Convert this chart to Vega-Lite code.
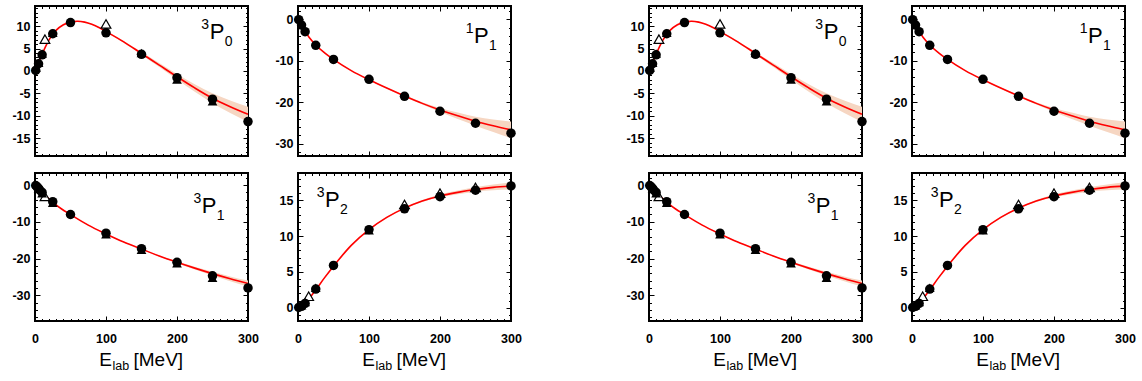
{
"$schema": "https://vega.github.io/schema/vega-lite/v6.json",
"padding": {"left": 10, "top": 4, "right": 5, "bottom": 5},
"datasets": {
"curve": [
{"w":"3P0","E":0,"d":0,"lo":-0.05,"hi":0.05},{"w":"3P0","E":1,"d":0.2,"lo":0.15,"hi":0.25},{"w":"3P0","E":3,"d":1.0,"lo":0.95,"hi":1.05},{"w":"3P0","E":5,"d":1.6,"lo":1.55,"hi":1.65},{"w":"3P0","E":7.5,"d":2.7,"lo":2.65,"hi":2.75},{"w":"3P0","E":10,"d":3.7,"lo":3.62,"hi":3.78},{"w":"3P0","E":15,"d":5.5,"lo":5.42,"hi":5.58},{"w":"3P0","E":20,"d":7.0,"lo":6.92,"hi":7.08},{"w":"3P0","E":25,"d":8.2,"lo":8.12,"hi":8.28},{"w":"3P0","E":30,"d":9.1,"lo":9.02,"hi":9.18},{"w":"3P0","E":40,"d":10.3,"lo":10.22,"hi":10.38},{"w":"3P0","E":50,"d":10.9,"lo":10.82,"hi":10.98},{"w":"3P0","E":60,"d":11.1,"lo":11.02,"hi":11.18},{"w":"3P0","E":70,"d":10.9,"lo":10.82,"hi":10.98},{"w":"3P0","E":80,"d":10.4,"lo":10.3,"hi":10.5},{"w":"3P0","E":90,"d":9.7,"lo":9.6,"hi":9.8},{"w":"3P0","E":100,"d":8.8,"lo":8.7,"hi":8.9},{"w":"3P0","E":125,"d":6.5,"lo":6.3,"hi":6.7},{"w":"3P0","E":150,"d":3.9,"lo":3.6,"hi":4.2},{"w":"3P0","E":175,"d":1.3,"lo":0.85,"hi":1.75},{"w":"3P0","E":200,"d":-1.3,"lo":-1.9,"hi":-0.7},{"w":"3P0","E":225,"d":-3.8,"lo":-4.65,"hi":-2.95},{"w":"3P0","E":250,"d":-6.1,"lo":-7.2,"hi":-5.0},{"w":"3P0","E":275,"d":-8.0,"lo":-9.4,"hi":-6.6},{"w":"3P0","E":300,"d":-9.7,"lo":-11.4,"hi":-8.0},
{"w":"1P1","E":0,"d":0,"lo":-0.05,"hi":0.05},{"w":"1P1","E":1,"d":-0.2,"lo":-0.25,"hi":-0.15},{"w":"1P1","E":5,"d":-1.5,"lo":-1.6,"hi":-1.4},{"w":"1P1","E":10,"d":-3.0,"lo":-3.1,"hi":-2.9},{"w":"1P1","E":15,"d":-4.2,"lo":-4.3,"hi":-4.1},{"w":"1P1","E":25,"d":-6.2,"lo":-6.3,"hi":-6.1},{"w":"1P1","E":37.5,"d":-8.1,"lo":-8.2,"hi":-8.0},{"w":"1P1","E":50,"d":-9.7,"lo":-9.8,"hi":-9.6},{"w":"1P1","E":75,"d":-12.4,"lo":-12.5,"hi":-12.3},{"w":"1P1","E":100,"d":-14.6,"lo":-14.7,"hi":-14.5},{"w":"1P1","E":125,"d":-16.6,"lo":-16.75,"hi":-16.45},{"w":"1P1","E":150,"d":-18.5,"lo":-18.7,"hi":-18.3},{"w":"1P1","E":175,"d":-20.3,"lo":-20.6,"hi":-20.0},{"w":"1P1","E":200,"d":-21.9,"lo":-22.4,"hi":-21.4},{"w":"1P1","E":225,"d":-23.3,"lo":-24.1,"hi":-22.5},{"w":"1P1","E":250,"d":-24.6,"lo":-25.7,"hi":-23.5},{"w":"1P1","E":275,"d":-25.7,"lo":-27.2,"hi":-24.2},{"w":"1P1","E":300,"d":-26.7,"lo":-28.7,"hi":-24.7},
{"w":"3P1","E":0,"d":0,"lo":-0.05,"hi":0.05},{"w":"3P1","E":1,"d":-0.1,"lo":-0.15,"hi":-0.05},{"w":"3P1","E":5,"d":-0.9,"lo":-1.0,"hi":-0.8},{"w":"3P1","E":10,"d":-2.0,"lo":-2.1,"hi":-1.9},{"w":"3P1","E":15,"d":-2.9,"lo":-3.0,"hi":-2.8},{"w":"3P1","E":25,"d":-4.6,"lo":-4.7,"hi":-4.5},{"w":"3P1","E":37.5,"d":-6.5,"lo":-6.6,"hi":-6.4},{"w":"3P1","E":50,"d":-8.0,"lo":-8.1,"hi":-7.9},{"w":"3P1","E":75,"d":-10.9,"lo":-11.0,"hi":-10.8},{"w":"3P1","E":100,"d":-13.3,"lo":-13.4,"hi":-13.2},{"w":"3P1","E":125,"d":-15.5,"lo":-15.6,"hi":-15.4},{"w":"3P1","E":150,"d":-17.4,"lo":-17.5,"hi":-17.3},{"w":"3P1","E":175,"d":-19.3,"lo":-19.45,"hi":-19.15},{"w":"3P1","E":200,"d":-21.0,"lo":-21.25,"hi":-20.75},{"w":"3P1","E":225,"d":-22.6,"lo":-22.95,"hi":-22.25},{"w":"3P1","E":250,"d":-24.1,"lo":-24.6,"hi":-23.6},{"w":"3P1","E":275,"d":-25.5,"lo":-26.15,"hi":-24.85},{"w":"3P1","E":300,"d":-26.8,"lo":-27.6,"hi":-26.0},
{"w":"3P2","E":0,"d":0,"lo":-0.05,"hi":0.05},{"w":"3P2","E":5,"d":0.25,"lo":0.2,"hi":0.3},{"w":"3P2","E":10,"d":0.65,"lo":0.6,"hi":0.7},{"w":"3P2","E":15,"d":1.2,"lo":1.15,"hi":1.25},{"w":"3P2","E":25,"d":2.5,"lo":2.45,"hi":2.55},{"w":"3P2","E":37.5,"d":4.2,"lo":4.1,"hi":4.3},{"w":"3P2","E":50,"d":5.8,"lo":5.7,"hi":5.9},{"w":"3P2","E":75,"d":8.7,"lo":8.6,"hi":8.8},{"w":"3P2","E":100,"d":10.9,"lo":10.8,"hi":11.0},{"w":"3P2","E":125,"d":12.6,"lo":12.5,"hi":12.7},{"w":"3P2","E":150,"d":13.9,"lo":13.8,"hi":14.0},{"w":"3P2","E":175,"d":14.9,"lo":14.75,"hi":15.05},{"w":"3P2","E":200,"d":15.6,"lo":15.4,"hi":15.8},{"w":"3P2","E":225,"d":16.1,"lo":15.85,"hi":16.35},{"w":"3P2","E":250,"d":16.5,"lo":16.2,"hi":16.8},{"w":"3P2","E":275,"d":16.8,"lo":16.4,"hi":17.2},{"w":"3P2","E":300,"d":17.0,"lo":16.5,"hi":17.5}
],
"pts": [
{"w":"3P0","s":"c","E":1,"d":0.1},{"w":"3P0","s":"c","E":5,"d":1.6},{"w":"3P0","s":"c","E":10,"d":3.6},{"w":"3P0","s":"c","E":25,"d":8.3},{"w":"3P0","s":"c","E":50,"d":10.8},{"w":"3P0","s":"c","E":100,"d":8.5},{"w":"3P0","s":"c","E":150,"d":3.7},{"w":"3P0","s":"c","E":200,"d":-1.5},{"w":"3P0","s":"c","E":250,"d":-6.3},{"w":"3P0","s":"c","E":300,"d":-11.3},
{"w":"3P0","s":"t","E":5,"d":1.8},{"w":"3P0","s":"t","E":10,"d":3.9},{"w":"3P0","s":"t","E":25,"d":8.5},{"w":"3P0","s":"t","E":150,"d":4.0},{"w":"3P0","s":"t","E":200,"d":-1.9},{"w":"3P0","s":"t","E":250,"d":-6.8},
{"w":"3P0","s":"o","E":14,"d":7.1},{"w":"3P0","s":"o","E":100,"d":10.5},
{"w":"1P1","s":"c","E":1,"d":-0.1},{"w":"1P1","s":"c","E":5,"d":-1.4},{"w":"1P1","s":"c","E":10,"d":-3.0},{"w":"1P1","s":"c","E":25,"d":-6.3},{"w":"1P1","s":"c","E":50,"d":-9.7},{"w":"1P1","s":"c","E":100,"d":-14.5},{"w":"1P1","s":"c","E":150,"d":-18.6},{"w":"1P1","s":"c","E":200,"d":-22.2},{"w":"1P1","s":"c","E":250,"d":-25.1},{"w":"1P1","s":"c","E":300,"d":-27.5},
{"w":"3P1","s":"c","E":1,"d":-0.1},{"w":"3P1","s":"c","E":3,"d":-0.5},{"w":"3P1","s":"c","E":5,"d":-0.9},{"w":"3P1","s":"c","E":7,"d":-1.4},{"w":"3P1","s":"c","E":10,"d":-2.0},{"w":"3P1","s":"c","E":25,"d":-4.5},{"w":"3P1","s":"c","E":50,"d":-8.0},{"w":"3P1","s":"c","E":100,"d":-13.1},{"w":"3P1","s":"c","E":150,"d":-17.3},{"w":"3P1","s":"c","E":200,"d":-21.0},{"w":"3P1","s":"c","E":250,"d":-24.7},{"w":"3P1","s":"c","E":300,"d":-28.0},
{"w":"3P1","s":"t","E":5,"d":-1.0},{"w":"3P1","s":"t","E":10,"d":-2.2},{"w":"3P1","s":"t","E":25,"d":-4.8},{"w":"3P1","s":"t","E":100,"d":-13.4},{"w":"3P1","s":"t","E":150,"d":-17.6},{"w":"3P1","s":"t","E":200,"d":-21.3},{"w":"3P1","s":"t","E":250,"d":-25.2},
{"w":"3P1","s":"o","E":14,"d":-3.1},
{"w":"3P2","s":"c","E":1,"d":0.05},{"w":"3P2","s":"c","E":5,"d":0.2},{"w":"3P2","s":"c","E":10,"d":0.6},{"w":"3P2","s":"c","E":25,"d":2.6},{"w":"3P2","s":"c","E":50,"d":5.9},{"w":"3P2","s":"c","E":100,"d":10.9},{"w":"3P2","s":"c","E":150,"d":13.8},{"w":"3P2","s":"c","E":200,"d":15.5},{"w":"3P2","s":"c","E":250,"d":16.4},{"w":"3P2","s":"c","E":300,"d":17.0},
{"w":"3P2","s":"t","E":5,"d":0.35},{"w":"3P2","s":"t","E":10,"d":0.8},{"w":"3P2","s":"t","E":25,"d":2.8},{"w":"3P2","s":"t","E":100,"d":10.8},
{"w":"3P2","s":"o","E":15,"d":1.6},{"w":"3P2","s":"o","E":150,"d":14.4},{"w":"3P2","s":"o","E":200,"d":16.0},{"w":"3P2","s":"o","E":250,"d":16.8}
],
"lab3P0": [{"sup":"3","main":"P","sub":"0"}],
"lab1P1": [{"sup":"1","main":"P","sub":"1"}],
"lab3P1": [{"sup":"3","main":"P","sub":"1"}],
"lab3P2": [{"sup":"3","main":"P","sub":"2"}],
"xtitle": [{"e":"E","lab":"lab","unit":"[MeV]"}]
},
"columns": 5,
"align": "each",
"bounds": "flush",
"spacing": {"row": 17, "column": 50},
"concat": [
{"width":213,"height":150,"resolve":{"axis":{"x":"independent","y":"independent"}},"layer":[
 {"data":{"name":"curve"},"transform":[{"filter":"datum.w === '3P0'"}],"mark":{"type":"area","color":"#f6d6c2","interpolate":"monotone"},"encoding":{"x":{"field":"E","type":"quantitative","scale":{"domain":[0,300],"nice":false},"axis":{"orient":"bottom","title":null,"values":[0,100,200,300],"labels":false,"tickSize":-5}},"y":{"field":"lo","type":"quantitative","scale":{"domain":[-19,14.5],"nice":false},"axis":{"orient":"left","title":null,"values":[-15,-10,-5,0,5,10],"labelExpr":"'' + datum.value","labelPadding":10,"tickSize":-5}},"y2":{"field":"hi"}}},
 {"data":{"name":"curve"},"transform":[{"filter":"datum.w === '3P0'"}],"mark":{"type":"line","color":"#ff0000","strokeWidth":1.6,"interpolate":"monotone"},"encoding":{"x":{"field":"E","type":"quantitative","axis":{"orient":"top","title":null,"values":[0,100,200,300],"labels":false,"tickSize":-5}},"y":{"field":"d","type":"quantitative","axis":{"orient":"right","title":null,"values":[-15,-10,-5,0,5,10],"labels":false,"tickSize":-5}}}},
 {"data":{"name":"pts"},"transform":[{"filter":"datum.w === '3P0' && datum.s === 'o'"}],"mark":{"type":"point","shape":"triangle-up","filled":true,"fill":"white","stroke":"black","strokeWidth":1.2,"opacity":1,"size":95},"encoding":{"x":{"field":"E","type":"quantitative","axis":{"orient":"bottom","title":null,"values":[0,10,20,30,40,50,60,70,80,90,100,110,120,130,140,150,160,170,180,190,200,210,220,230,240,250,260,270,280,290,300],"labels":false,"tickSize":-2.5}},"y":{"field":"d","type":"quantitative","axis":{"orient":"left","title":null,"values":[-19,-18,-17,-16,-15,-14,-13,-12,-11,-10,-9,-8,-7,-6,-5,-4,-3,-2,-1,0,1,2,3,4,5,6,7,8,9,10,11,12,13,14],"labels":false,"tickSize":-2.5}}}},
 {"data":{"name":"pts"},"transform":[{"filter":"datum.w === '3P0' && datum.s === 't'"}],"mark":{"type":"point","shape":"triangle-up","filled":true,"color":"black","opacity":1,"size":95},"encoding":{"x":{"field":"E","type":"quantitative","axis":null},"y":{"field":"d","type":"quantitative","axis":null}}},
 {"data":{"name":"pts"},"transform":[{"filter":"datum.w === '3P0' && datum.s === 'c'"}],"mark":{"type":"circle","color":"black","opacity":1,"size":90},"encoding":{"x":{"field":"E","type":"quantitative","axis":{"orient":"top","title":null,"values":[0,10,20,30,40,50,60,70,80,90,100,110,120,130,140,150,160,170,180,190,200,210,220,230,240,250,260,270,280,290,300],"labels":false,"tickSize":-2.5}},"y":{"field":"d","type":"quantitative","axis":{"orient":"right","title":null,"values":[-19,-18,-17,-16,-15,-14,-13,-12,-11,-10,-9,-8,-7,-6,-5,-4,-3,-2,-1,0,1,2,3,4,5,6,7,8,9,10,11,12,13,14],"labels":false,"tickSize":-2.5}}}},
 {"data":{"name":"lab3P0"},"encoding":{"x":{"datum":246,"type":"quantitative","axis":null},"y":{"datum":7.1,"type":"quantitative","axis":null}},"layer":[
  {"mark":{"type":"text","fontSize":14,"align":"right","baseline":"alphabetic","dx":-0.5,"dy":-10},"encoding":{"text":{"field":"sup"}}},
  {"mark":{"type":"text","fontSize":22,"align":"left","baseline":"alphabetic"},"encoding":{"text":{"field":"main"}}},
  {"mark":{"type":"text","fontSize":14,"align":"left","baseline":"alphabetic","dx":15,"dy":7},"encoding":{"text":{"field":"sub"}}}]}
]},
{"width":213,"height":150,"resolve":{"axis":{"x":"independent","y":"independent"}},"layer":[
 {"data":{"name":"curve"},"transform":[{"filter":"datum.w === '1P1'"}],"mark":{"type":"area","color":"#f6d6c2","interpolate":"monotone"},"encoding":{"x":{"field":"E","type":"quantitative","scale":{"domain":[0,300],"nice":false},"axis":{"orient":"bottom","title":null,"values":[0,100,200,300],"labels":false,"tickSize":-5}},"y":{"field":"lo","type":"quantitative","scale":{"domain":[-33,3.2],"nice":false},"axis":{"orient":"left","title":null,"values":[-30,-20,-10,0],"labelExpr":"'' + datum.value","labelPadding":10,"tickSize":-5}},"y2":{"field":"hi"}}},
 {"data":{"name":"curve"},"transform":[{"filter":"datum.w === '1P1'"}],"mark":{"type":"line","color":"#ff0000","strokeWidth":1.6,"interpolate":"monotone"},"encoding":{"x":{"field":"E","type":"quantitative","axis":{"orient":"top","title":null,"values":[0,100,200,300],"labels":false,"tickSize":-5}},"y":{"field":"d","type":"quantitative","axis":{"orient":"right","title":null,"values":[-30,-20,-10,0],"labels":false,"tickSize":-5}}}},
 {"data":{"name":"pts"},"transform":[{"filter":"datum.w === '1P1' && datum.s === 'o'"}],"mark":{"type":"point","shape":"triangle-up","filled":true,"fill":"white","stroke":"black","strokeWidth":1.2,"opacity":1,"size":95},"encoding":{"x":{"field":"E","type":"quantitative","axis":{"orient":"bottom","title":null,"values":[0,10,20,30,40,50,60,70,80,90,100,110,120,130,140,150,160,170,180,190,200,210,220,230,240,250,260,270,280,290,300],"labels":false,"tickSize":-2.5}},"y":{"field":"d","type":"quantitative","axis":{"orient":"left","title":null,"values":[-32,-30,-28,-26,-24,-22,-20,-18,-16,-14,-12,-10,-8,-6,-4,-2,0,2],"labels":false,"tickSize":-2.5}}}},
 {"data":{"name":"pts"},"transform":[{"filter":"datum.w === '1P1' && datum.s === 'c'"}],"mark":{"type":"circle","color":"black","opacity":1,"size":90},"encoding":{"x":{"field":"E","type":"quantitative","axis":{"orient":"top","title":null,"values":[0,10,20,30,40,50,60,70,80,90,100,110,120,130,140,150,160,170,180,190,200,210,220,230,240,250,260,270,280,290,300],"labels":false,"tickSize":-2.5}},"y":{"field":"d","type":"quantitative","axis":{"orient":"right","title":null,"values":[-32,-30,-28,-26,-24,-22,-20,-18,-16,-14,-12,-10,-8,-6,-4,-2,0,2],"labels":false,"tickSize":-2.5}}}},
 {"data":{"name":"lab1P1"},"encoding":{"x":{"datum":248,"type":"quantitative","axis":null},"y":{"datum":-5.7,"type":"quantitative","axis":null}},"layer":[
  {"mark":{"type":"text","fontSize":14,"align":"right","baseline":"alphabetic","dx":-0.5,"dy":-10},"encoding":{"text":{"field":"sup"}}},
  {"mark":{"type":"text","fontSize":22,"align":"left","baseline":"alphabetic"},"encoding":{"text":{"field":"main"}}},
  {"mark":{"type":"text","fontSize":14,"align":"left","baseline":"alphabetic","dx":15,"dy":7},"encoding":{"text":{"field":"sub"}}}]}
]},
{"width":38,"height":150,"data":{"values":[]},"mark":"point","view":{"stroke":null}},
{"width":213,"height":150,"resolve":{"axis":{"x":"independent","y":"independent"}},"layer":[
 {"data":{"name":"curve"},"transform":[{"filter":"datum.w === '3P0'"}],"mark":{"type":"area","color":"#f6d6c2","interpolate":"monotone"},"encoding":{"x":{"field":"E","type":"quantitative","scale":{"domain":[0,300],"nice":false},"axis":{"orient":"bottom","title":null,"values":[0,100,200,300],"labels":false,"tickSize":-5}},"y":{"field":"lo","type":"quantitative","scale":{"domain":[-19,14.5],"nice":false},"axis":{"orient":"left","title":null,"values":[-15,-10,-5,0,5,10],"labelExpr":"'' + datum.value","labelPadding":10,"tickSize":-5}},"y2":{"field":"hi"}}},
 {"data":{"name":"curve"},"transform":[{"filter":"datum.w === '3P0'"}],"mark":{"type":"line","color":"#ff0000","strokeWidth":1.6,"interpolate":"monotone"},"encoding":{"x":{"field":"E","type":"quantitative","axis":{"orient":"top","title":null,"values":[0,100,200,300],"labels":false,"tickSize":-5}},"y":{"field":"d","type":"quantitative","axis":{"orient":"right","title":null,"values":[-15,-10,-5,0,5,10],"labels":false,"tickSize":-5}}}},
 {"data":{"name":"pts"},"transform":[{"filter":"datum.w === '3P0' && datum.s === 'o'"}],"mark":{"type":"point","shape":"triangle-up","filled":true,"fill":"white","stroke":"black","strokeWidth":1.2,"opacity":1,"size":95},"encoding":{"x":{"field":"E","type":"quantitative","axis":{"orient":"bottom","title":null,"values":[0,10,20,30,40,50,60,70,80,90,100,110,120,130,140,150,160,170,180,190,200,210,220,230,240,250,260,270,280,290,300],"labels":false,"tickSize":-2.5}},"y":{"field":"d","type":"quantitative","axis":{"orient":"left","title":null,"values":[-19,-18,-17,-16,-15,-14,-13,-12,-11,-10,-9,-8,-7,-6,-5,-4,-3,-2,-1,0,1,2,3,4,5,6,7,8,9,10,11,12,13,14],"labels":false,"tickSize":-2.5}}}},
 {"data":{"name":"pts"},"transform":[{"filter":"datum.w === '3P0' && datum.s === 't'"}],"mark":{"type":"point","shape":"triangle-up","filled":true,"color":"black","opacity":1,"size":95},"encoding":{"x":{"field":"E","type":"quantitative","axis":null},"y":{"field":"d","type":"quantitative","axis":null}}},
 {"data":{"name":"pts"},"transform":[{"filter":"datum.w === '3P0' && datum.s === 'c'"}],"mark":{"type":"circle","color":"black","opacity":1,"size":90},"encoding":{"x":{"field":"E","type":"quantitative","axis":{"orient":"top","title":null,"values":[0,10,20,30,40,50,60,70,80,90,100,110,120,130,140,150,160,170,180,190,200,210,220,230,240,250,260,270,280,290,300],"labels":false,"tickSize":-2.5}},"y":{"field":"d","type":"quantitative","axis":{"orient":"right","title":null,"values":[-19,-18,-17,-16,-15,-14,-13,-12,-11,-10,-9,-8,-7,-6,-5,-4,-3,-2,-1,0,1,2,3,4,5,6,7,8,9,10,11,12,13,14],"labels":false,"tickSize":-2.5}}}},
 {"data":{"name":"lab3P0"},"encoding":{"x":{"datum":246,"type":"quantitative","axis":null},"y":{"datum":7.1,"type":"quantitative","axis":null}},"layer":[
  {"mark":{"type":"text","fontSize":14,"align":"right","baseline":"alphabetic","dx":-0.5,"dy":-10},"encoding":{"text":{"field":"sup"}}},
  {"mark":{"type":"text","fontSize":22,"align":"left","baseline":"alphabetic"},"encoding":{"text":{"field":"main"}}},
  {"mark":{"type":"text","fontSize":14,"align":"left","baseline":"alphabetic","dx":15,"dy":7},"encoding":{"text":{"field":"sub"}}}]}
]},
{"width":213,"height":150,"resolve":{"axis":{"x":"independent","y":"independent"}},"layer":[
 {"data":{"name":"curve"},"transform":[{"filter":"datum.w === '1P1'"}],"mark":{"type":"area","color":"#f6d6c2","interpolate":"monotone"},"encoding":{"x":{"field":"E","type":"quantitative","scale":{"domain":[0,300],"nice":false},"axis":{"orient":"bottom","title":null,"values":[0,100,200,300],"labels":false,"tickSize":-5}},"y":{"field":"lo","type":"quantitative","scale":{"domain":[-33,3.2],"nice":false},"axis":{"orient":"left","title":null,"values":[-30,-20,-10,0],"labelExpr":"'' + datum.value","labelPadding":10,"tickSize":-5}},"y2":{"field":"hi"}}},
 {"data":{"name":"curve"},"transform":[{"filter":"datum.w === '1P1'"}],"mark":{"type":"line","color":"#ff0000","strokeWidth":1.6,"interpolate":"monotone"},"encoding":{"x":{"field":"E","type":"quantitative","axis":{"orient":"top","title":null,"values":[0,100,200,300],"labels":false,"tickSize":-5}},"y":{"field":"d","type":"quantitative","axis":{"orient":"right","title":null,"values":[-30,-20,-10,0],"labels":false,"tickSize":-5}}}},
 {"data":{"name":"pts"},"transform":[{"filter":"datum.w === '1P1' && datum.s === 'o'"}],"mark":{"type":"point","shape":"triangle-up","filled":true,"fill":"white","stroke":"black","strokeWidth":1.2,"opacity":1,"size":95},"encoding":{"x":{"field":"E","type":"quantitative","axis":{"orient":"bottom","title":null,"values":[0,10,20,30,40,50,60,70,80,90,100,110,120,130,140,150,160,170,180,190,200,210,220,230,240,250,260,270,280,290,300],"labels":false,"tickSize":-2.5}},"y":{"field":"d","type":"quantitative","axis":{"orient":"left","title":null,"values":[-32,-30,-28,-26,-24,-22,-20,-18,-16,-14,-12,-10,-8,-6,-4,-2,0,2],"labels":false,"tickSize":-2.5}}}},
 {"data":{"name":"pts"},"transform":[{"filter":"datum.w === '1P1' && datum.s === 'c'"}],"mark":{"type":"circle","color":"black","opacity":1,"size":90},"encoding":{"x":{"field":"E","type":"quantitative","axis":{"orient":"top","title":null,"values":[0,10,20,30,40,50,60,70,80,90,100,110,120,130,140,150,160,170,180,190,200,210,220,230,240,250,260,270,280,290,300],"labels":false,"tickSize":-2.5}},"y":{"field":"d","type":"quantitative","axis":{"orient":"right","title":null,"values":[-32,-30,-28,-26,-24,-22,-20,-18,-16,-14,-12,-10,-8,-6,-4,-2,0,2],"labels":false,"tickSize":-2.5}}}},
 {"data":{"name":"lab1P1"},"encoding":{"x":{"datum":248,"type":"quantitative","axis":null},"y":{"datum":-5.7,"type":"quantitative","axis":null}},"layer":[
  {"mark":{"type":"text","fontSize":14,"align":"right","baseline":"alphabetic","dx":-0.5,"dy":-10},"encoding":{"text":{"field":"sup"}}},
  {"mark":{"type":"text","fontSize":22,"align":"left","baseline":"alphabetic"},"encoding":{"text":{"field":"main"}}},
  {"mark":{"type":"text","fontSize":14,"align":"left","baseline":"alphabetic","dx":15,"dy":7},"encoding":{"text":{"field":"sub"}}}]}
]},
{"width":213,"height":148,"resolve":{"axis":{"x":"independent","y":"independent"}},"layer":[
 {"data":{"name":"curve"},"transform":[{"filter":"datum.w === '3P1'"}],"mark":{"type":"area","color":"#f6d6c2","interpolate":"monotone"},"encoding":{"x":{"field":"E","type":"quantitative","scale":{"domain":[0,300],"nice":false},"axis":{"orient":"bottom","title":null,"values":[0,100,200,300],"labelExpr":"'' + datum.value","labelPadding":16,"tickSize":-5}},"y":{"field":"lo","type":"quantitative","scale":{"domain":[-37,3.3],"nice":false},"axis":{"orient":"left","title":null,"values":[-30,-20,-10,0],"labelExpr":"'' + datum.value","labelPadding":10,"tickSize":-5}},"y2":{"field":"hi"}}},
 {"data":{"name":"curve"},"transform":[{"filter":"datum.w === '3P1'"}],"mark":{"type":"line","color":"#ff0000","strokeWidth":1.6,"interpolate":"monotone"},"encoding":{"x":{"field":"E","type":"quantitative","axis":{"orient":"top","title":null,"values":[0,100,200,300],"labels":false,"tickSize":-5}},"y":{"field":"d","type":"quantitative","axis":{"orient":"right","title":null,"values":[-30,-20,-10,0],"labels":false,"tickSize":-5}}}},
 {"data":{"name":"pts"},"transform":[{"filter":"datum.w === '3P1' && datum.s === 'o'"}],"mark":{"type":"point","shape":"triangle-up","filled":true,"fill":"white","stroke":"black","strokeWidth":1.2,"opacity":1,"size":95},"encoding":{"x":{"field":"E","type":"quantitative","axis":{"orient":"bottom","title":null,"values":[0,10,20,30,40,50,60,70,80,90,100,110,120,130,140,150,160,170,180,190,200,210,220,230,240,250,260,270,280,290,300],"labels":false,"tickSize":-2.5}},"y":{"field":"d","type":"quantitative","axis":{"orient":"left","title":null,"values":[-36,-34,-32,-30,-28,-26,-24,-22,-20,-18,-16,-14,-12,-10,-8,-6,-4,-2,0,2],"labels":false,"tickSize":-2.5}}}},
 {"data":{"name":"pts"},"transform":[{"filter":"datum.w === '3P1' && datum.s === 't'"}],"mark":{"type":"point","shape":"triangle-up","filled":true,"color":"black","opacity":1,"size":95},"encoding":{"x":{"field":"E","type":"quantitative","axis":null},"y":{"field":"d","type":"quantitative","axis":null}}},
 {"data":{"name":"pts"},"transform":[{"filter":"datum.w === '3P1' && datum.s === 'c'"}],"mark":{"type":"circle","color":"black","opacity":1,"size":90},"encoding":{"x":{"field":"E","type":"quantitative","axis":{"orient":"top","title":null,"values":[0,10,20,30,40,50,60,70,80,90,100,110,120,130,140,150,160,170,180,190,200,210,220,230,240,250,260,270,280,290,300],"labels":false,"tickSize":-2.5}},"y":{"field":"d","type":"quantitative","axis":{"orient":"right","title":null,"values":[-36,-34,-32,-30,-28,-26,-24,-22,-20,-18,-16,-14,-12,-10,-8,-6,-4,-2,0,2],"labels":false,"tickSize":-2.5}}}},
 {"data":{"name":"lab3P1"},"encoding":{"x":{"datum":235,"type":"quantitative","axis":null},"y":{"datum":-7.6,"type":"quantitative","axis":null}},"layer":[
  {"mark":{"type":"text","fontSize":14,"align":"right","baseline":"alphabetic","dx":-0.5,"dy":-10},"encoding":{"text":{"field":"sup"}}},
  {"mark":{"type":"text","fontSize":22,"align":"left","baseline":"alphabetic"},"encoding":{"text":{"field":"main"}}},
  {"mark":{"type":"text","fontSize":14,"align":"left","baseline":"alphabetic","dx":15,"dy":7},"encoding":{"text":{"field":"sub"}}}]},
 {"data":{"name":"xtitle"},"encoding":{"x":{"datum":150,"type":"quantitative","axis":null},"y":{"datum":-37,"type":"quantitative","axis":null}},"layer":[
  {"mark":{"type":"text","fontSize":19,"align":"right","baseline":"alphabetic","dx":-29.5,"dy":45},"encoding":{"text":{"field":"e"}}},
  {"mark":{"type":"text","fontSize":12.5,"align":"left","baseline":"alphabetic","dx":-29,"dy":49},"encoding":{"text":{"field":"lab"}}},
  {"mark":{"type":"text","fontSize":19,"align":"left","baseline":"alphabetic","dx":-8,"dy":45},"encoding":{"text":{"field":"unit"}}}]}
]},
{"width":213,"height":148,"resolve":{"axis":{"x":"independent","y":"independent"}},"layer":[
 {"data":{"name":"curve"},"transform":[{"filter":"datum.w === '3P2'"}],"mark":{"type":"area","color":"#f6d6c2","interpolate":"monotone"},"encoding":{"x":{"field":"E","type":"quantitative","scale":{"domain":[0,300],"nice":false},"axis":{"orient":"bottom","title":null,"values":[0,100,200,300],"labelExpr":"'' + datum.value","labelPadding":16,"tickSize":-5}},"y":{"field":"lo","type":"quantitative","scale":{"domain":[-1.85,18.8],"nice":false},"axis":{"orient":"left","title":null,"values":[0,5,10,15],"labelExpr":"'' + datum.value","labelPadding":10,"tickSize":-5}},"y2":{"field":"hi"}}},
 {"data":{"name":"curve"},"transform":[{"filter":"datum.w === '3P2'"}],"mark":{"type":"line","color":"#ff0000","strokeWidth":1.6,"interpolate":"monotone"},"encoding":{"x":{"field":"E","type":"quantitative","axis":{"orient":"top","title":null,"values":[0,100,200,300],"labels":false,"tickSize":-5}},"y":{"field":"d","type":"quantitative","axis":{"orient":"right","title":null,"values":[0,5,10,15],"labels":false,"tickSize":-5}}}},
 {"data":{"name":"pts"},"transform":[{"filter":"datum.w === '3P2' && datum.s === 'o'"}],"mark":{"type":"point","shape":"triangle-up","filled":true,"fill":"white","stroke":"black","strokeWidth":1.2,"opacity":1,"size":95},"encoding":{"x":{"field":"E","type":"quantitative","axis":{"orient":"bottom","title":null,"values":[0,10,20,30,40,50,60,70,80,90,100,110,120,130,140,150,160,170,180,190,200,210,220,230,240,250,260,270,280,290,300],"labels":false,"tickSize":-2.5}},"y":{"field":"d","type":"quantitative","axis":{"orient":"left","title":null,"values":[-1,0,1,2,3,4,5,6,7,8,9,10,11,12,13,14,15,16,17,18],"labels":false,"tickSize":-2.5}}}},
 {"data":{"name":"pts"},"transform":[{"filter":"datum.w === '3P2' && datum.s === 't'"}],"mark":{"type":"point","shape":"triangle-up","filled":true,"color":"black","opacity":1,"size":95},"encoding":{"x":{"field":"E","type":"quantitative","axis":null},"y":{"field":"d","type":"quantitative","axis":null}}},
 {"data":{"name":"pts"},"transform":[{"filter":"datum.w === '3P2' && datum.s === 'c'"}],"mark":{"type":"circle","color":"black","opacity":1,"size":90},"encoding":{"x":{"field":"E","type":"quantitative","axis":{"orient":"top","title":null,"values":[0,10,20,30,40,50,60,70,80,90,100,110,120,130,140,150,160,170,180,190,200,210,220,230,240,250,260,270,280,290,300],"labels":false,"tickSize":-2.5}},"y":{"field":"d","type":"quantitative","axis":{"orient":"right","title":null,"values":[-1,0,1,2,3,4,5,6,7,8,9,10,11,12,13,14,15,16,17,18],"labels":false,"tickSize":-2.5}}}},
 {"data":{"name":"lab3P2"},"encoding":{"x":{"datum":38,"type":"quantitative","axis":null},"y":{"datum":14.06,"type":"quantitative","axis":null}},"layer":[
  {"mark":{"type":"text","fontSize":14,"align":"right","baseline":"alphabetic","dx":-0.5,"dy":-10},"encoding":{"text":{"field":"sup"}}},
  {"mark":{"type":"text","fontSize":22,"align":"left","baseline":"alphabetic"},"encoding":{"text":{"field":"main"}}},
  {"mark":{"type":"text","fontSize":14,"align":"left","baseline":"alphabetic","dx":15,"dy":7},"encoding":{"text":{"field":"sub"}}}]},
 {"data":{"name":"xtitle"},"encoding":{"x":{"datum":150,"type":"quantitative","axis":null},"y":{"datum":-1.85,"type":"quantitative","axis":null}},"layer":[
  {"mark":{"type":"text","fontSize":19,"align":"right","baseline":"alphabetic","dx":-29.5,"dy":45},"encoding":{"text":{"field":"e"}}},
  {"mark":{"type":"text","fontSize":12.5,"align":"left","baseline":"alphabetic","dx":-29,"dy":49},"encoding":{"text":{"field":"lab"}}},
  {"mark":{"type":"text","fontSize":19,"align":"left","baseline":"alphabetic","dx":-8,"dy":45},"encoding":{"text":{"field":"unit"}}}]}
]},
{"width":38,"height":148,"data":{"values":[]},"mark":"point","view":{"stroke":null}},
{"width":213,"height":148,"resolve":{"axis":{"x":"independent","y":"independent"}},"layer":[
 {"data":{"name":"curve"},"transform":[{"filter":"datum.w === '3P1'"}],"mark":{"type":"area","color":"#f6d6c2","interpolate":"monotone"},"encoding":{"x":{"field":"E","type":"quantitative","scale":{"domain":[0,300],"nice":false},"axis":{"orient":"bottom","title":null,"values":[0,100,200,300],"labelExpr":"'' + datum.value","labelPadding":16,"tickSize":-5}},"y":{"field":"lo","type":"quantitative","scale":{"domain":[-37,3.3],"nice":false},"axis":{"orient":"left","title":null,"values":[-30,-20,-10,0],"labelExpr":"'' + datum.value","labelPadding":10,"tickSize":-5}},"y2":{"field":"hi"}}},
 {"data":{"name":"curve"},"transform":[{"filter":"datum.w === '3P1'"}],"mark":{"type":"line","color":"#ff0000","strokeWidth":1.6,"interpolate":"monotone"},"encoding":{"x":{"field":"E","type":"quantitative","axis":{"orient":"top","title":null,"values":[0,100,200,300],"labels":false,"tickSize":-5}},"y":{"field":"d","type":"quantitative","axis":{"orient":"right","title":null,"values":[-30,-20,-10,0],"labels":false,"tickSize":-5}}}},
 {"data":{"name":"pts"},"transform":[{"filter":"datum.w === '3P1' && datum.s === 'o'"}],"mark":{"type":"point","shape":"triangle-up","filled":true,"fill":"white","stroke":"black","strokeWidth":1.2,"opacity":1,"size":95},"encoding":{"x":{"field":"E","type":"quantitative","axis":{"orient":"bottom","title":null,"values":[0,10,20,30,40,50,60,70,80,90,100,110,120,130,140,150,160,170,180,190,200,210,220,230,240,250,260,270,280,290,300],"labels":false,"tickSize":-2.5}},"y":{"field":"d","type":"quantitative","axis":{"orient":"left","title":null,"values":[-36,-34,-32,-30,-28,-26,-24,-22,-20,-18,-16,-14,-12,-10,-8,-6,-4,-2,0,2],"labels":false,"tickSize":-2.5}}}},
 {"data":{"name":"pts"},"transform":[{"filter":"datum.w === '3P1' && datum.s === 't'"}],"mark":{"type":"point","shape":"triangle-up","filled":true,"color":"black","opacity":1,"size":95},"encoding":{"x":{"field":"E","type":"quantitative","axis":null},"y":{"field":"d","type":"quantitative","axis":null}}},
 {"data":{"name":"pts"},"transform":[{"filter":"datum.w === '3P1' && datum.s === 'c'"}],"mark":{"type":"circle","color":"black","opacity":1,"size":90},"encoding":{"x":{"field":"E","type":"quantitative","axis":{"orient":"top","title":null,"values":[0,10,20,30,40,50,60,70,80,90,100,110,120,130,140,150,160,170,180,190,200,210,220,230,240,250,260,270,280,290,300],"labels":false,"tickSize":-2.5}},"y":{"field":"d","type":"quantitative","axis":{"orient":"right","title":null,"values":[-36,-34,-32,-30,-28,-26,-24,-22,-20,-18,-16,-14,-12,-10,-8,-6,-4,-2,0,2],"labels":false,"tickSize":-2.5}}}},
 {"data":{"name":"lab3P1"},"encoding":{"x":{"datum":235,"type":"quantitative","axis":null},"y":{"datum":-7.6,"type":"quantitative","axis":null}},"layer":[
  {"mark":{"type":"text","fontSize":14,"align":"right","baseline":"alphabetic","dx":-0.5,"dy":-10},"encoding":{"text":{"field":"sup"}}},
  {"mark":{"type":"text","fontSize":22,"align":"left","baseline":"alphabetic"},"encoding":{"text":{"field":"main"}}},
  {"mark":{"type":"text","fontSize":14,"align":"left","baseline":"alphabetic","dx":15,"dy":7},"encoding":{"text":{"field":"sub"}}}]},
 {"data":{"name":"xtitle"},"encoding":{"x":{"datum":150,"type":"quantitative","axis":null},"y":{"datum":-37,"type":"quantitative","axis":null}},"layer":[
  {"mark":{"type":"text","fontSize":19,"align":"right","baseline":"alphabetic","dx":-29.5,"dy":45},"encoding":{"text":{"field":"e"}}},
  {"mark":{"type":"text","fontSize":12.5,"align":"left","baseline":"alphabetic","dx":-29,"dy":49},"encoding":{"text":{"field":"lab"}}},
  {"mark":{"type":"text","fontSize":19,"align":"left","baseline":"alphabetic","dx":-8,"dy":45},"encoding":{"text":{"field":"unit"}}}]}
]},
{"width":213,"height":148,"resolve":{"axis":{"x":"independent","y":"independent"}},"layer":[
 {"data":{"name":"curve"},"transform":[{"filter":"datum.w === '3P2'"}],"mark":{"type":"area","color":"#f6d6c2","interpolate":"monotone"},"encoding":{"x":{"field":"E","type":"quantitative","scale":{"domain":[0,300],"nice":false},"axis":{"orient":"bottom","title":null,"values":[0,100,200,300],"labelExpr":"'' + datum.value","labelPadding":16,"tickSize":-5}},"y":{"field":"lo","type":"quantitative","scale":{"domain":[-1.85,18.8],"nice":false},"axis":{"orient":"left","title":null,"values":[0,5,10,15],"labelExpr":"'' + datum.value","labelPadding":10,"tickSize":-5}},"y2":{"field":"hi"}}},
 {"data":{"name":"curve"},"transform":[{"filter":"datum.w === '3P2'"}],"mark":{"type":"line","color":"#ff0000","strokeWidth":1.6,"interpolate":"monotone"},"encoding":{"x":{"field":"E","type":"quantitative","axis":{"orient":"top","title":null,"values":[0,100,200,300],"labels":false,"tickSize":-5}},"y":{"field":"d","type":"quantitative","axis":{"orient":"right","title":null,"values":[0,5,10,15],"labels":false,"tickSize":-5}}}},
 {"data":{"name":"pts"},"transform":[{"filter":"datum.w === '3P2' && datum.s === 'o'"}],"mark":{"type":"point","shape":"triangle-up","filled":true,"fill":"white","stroke":"black","strokeWidth":1.2,"opacity":1,"size":95},"encoding":{"x":{"field":"E","type":"quantitative","axis":{"orient":"bottom","title":null,"values":[0,10,20,30,40,50,60,70,80,90,100,110,120,130,140,150,160,170,180,190,200,210,220,230,240,250,260,270,280,290,300],"labels":false,"tickSize":-2.5}},"y":{"field":"d","type":"quantitative","axis":{"orient":"left","title":null,"values":[-1,0,1,2,3,4,5,6,7,8,9,10,11,12,13,14,15,16,17,18],"labels":false,"tickSize":-2.5}}}},
 {"data":{"name":"pts"},"transform":[{"filter":"datum.w === '3P2' && datum.s === 't'"}],"mark":{"type":"point","shape":"triangle-up","filled":true,"color":"black","opacity":1,"size":95},"encoding":{"x":{"field":"E","type":"quantitative","axis":null},"y":{"field":"d","type":"quantitative","axis":null}}},
 {"data":{"name":"pts"},"transform":[{"filter":"datum.w === '3P2' && datum.s === 'c'"}],"mark":{"type":"circle","color":"black","opacity":1,"size":90},"encoding":{"x":{"field":"E","type":"quantitative","axis":{"orient":"top","title":null,"values":[0,10,20,30,40,50,60,70,80,90,100,110,120,130,140,150,160,170,180,190,200,210,220,230,240,250,260,270,280,290,300],"labels":false,"tickSize":-2.5}},"y":{"field":"d","type":"quantitative","axis":{"orient":"right","title":null,"values":[-1,0,1,2,3,4,5,6,7,8,9,10,11,12,13,14,15,16,17,18],"labels":false,"tickSize":-2.5}}}},
 {"data":{"name":"lab3P2"},"encoding":{"x":{"datum":38,"type":"quantitative","axis":null},"y":{"datum":14.06,"type":"quantitative","axis":null}},"layer":[
  {"mark":{"type":"text","fontSize":14,"align":"right","baseline":"alphabetic","dx":-0.5,"dy":-10},"encoding":{"text":{"field":"sup"}}},
  {"mark":{"type":"text","fontSize":22,"align":"left","baseline":"alphabetic"},"encoding":{"text":{"field":"main"}}},
  {"mark":{"type":"text","fontSize":14,"align":"left","baseline":"alphabetic","dx":15,"dy":7},"encoding":{"text":{"field":"sub"}}}]},
 {"data":{"name":"xtitle"},"encoding":{"x":{"datum":150,"type":"quantitative","axis":null},"y":{"datum":-1.85,"type":"quantitative","axis":null}},"layer":[
  {"mark":{"type":"text","fontSize":19,"align":"right","baseline":"alphabetic","dx":-29.5,"dy":45},"encoding":{"text":{"field":"e"}}},
  {"mark":{"type":"text","fontSize":12.5,"align":"left","baseline":"alphabetic","dx":-29,"dy":49},"encoding":{"text":{"field":"lab"}}},
  {"mark":{"type":"text","fontSize":19,"align":"left","baseline":"alphabetic","dx":-8,"dy":45},"encoding":{"text":{"field":"unit"}}}]}
]}
],
"config": {
 "view": {"stroke": "black", "strokeWidth": 2},
 "axis": {"domain": false, "grid": false, "tickColor": "black", "tickWidth": 1, "labelFont": "Liberation Sans", "labelFontSize": 12.5, "labelFontWeight": "bold", "labelColor": "black", "labelOverlap": false, "labelFlush": false},
 "text": {"font": "Liberation Sans", "color": "black"}
}
}
